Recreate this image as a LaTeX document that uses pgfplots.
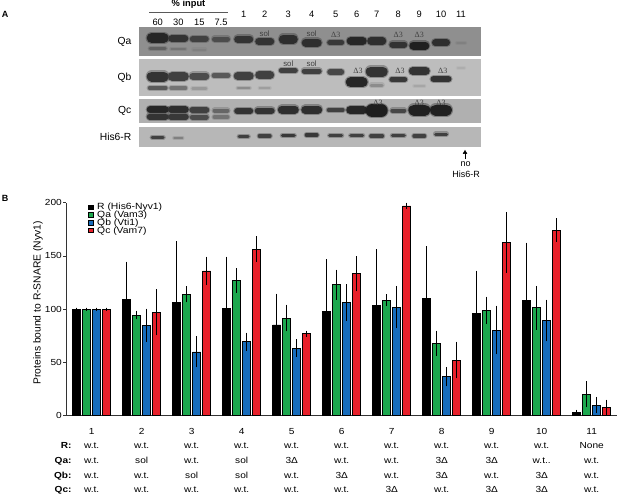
\documentclass[border=0pt]{standalone}
\usepackage{fontspec}
\setmainfont{Liberation Sans}
\newfontfamily\bfont{Liberation Sans}[FakeStretch=1.15]
\newfontfamily\serifont{Liberation Serif}
\usepackage{pgfplots}
\pgfplotsset{compat=1.18}

\definecolor{cgreen}{RGB}{28,168,78}
\definecolor{cblue}{RGB}{22,108,188}
\definecolor{cred}{RGB}{232,32,42}
\definecolor{qacol}{RGB}{143,143,143}
\definecolor{qbcol}{RGB}{189,189,189}
\definecolor{qccol}{RGB}{176,176,176}
\definecolor{hicol}{RGB}{183,183,183}

% gel band: lane x (px), y (px), half width, half height, percent black
\newcommand\band[5]{%
  \pgfmathsetmacro\xa{#1-#3+#4}\pgfmathsetmacro\xb{#1+#3-#4}%
  \pgfmathsetmacro\lw{2*#4}\pgfmathsetmacro\lwh{2*#4+2.2}%
  \edef\tmp{\noexpand\addplot[black!#5, opacity=0.35, line width=\lwh pt, line cap=round] coordinates {(\xa,#2) (\xb,#2)};%
  \noexpand\addplot[black!#5, line width=\lw pt, line cap=round] coordinates {(\xa,#2) (\xb,#2)};}\tmp}

\begin{document}
\begin{tikzpicture}
% ---------------- Panel A (gel) ----------------
\begin{axis}[at={(308.5pt,-90pt)}, anchor=center, scale only axis,
  width=617pt, height=180pt, xmin=0, xmax=617, ymin=0, ymax=180,
  y dir=reverse, hide axis, clip=false]
\addplot[draw=none, fill=qacol] coordinates {(139.3,27.3) (481,27.3) (481,55.7) (139.3,55.7)};
\addplot[draw=none, fill=qbcol] coordinates {(139.3,59.3) (481,59.3) (481,96) (139.3,96)};
\addplot[draw=none, fill=qccol] coordinates {(139.3,98.7) (481,98.7) (481,123.3) (139.3,123.3)};
\addplot[draw=none, fill=hicol] coordinates {(139.3,126.7) (481,126.7) (481,146.7) (139.3,146.7)};
% Qa
\band{157.7}{38}{11}{5}{85}
\band{178.3}{38.5}{10}{3.5}{80}
\band{199.3}{39}{9.5}{3}{75}
\band{221}{39}{9}{2.5}{70}
\band{157.7}{48.5}{9}{1.5}{62}
\band{178.3}{49}{8}{1.2}{55}
\band{199.3}{49.5}{7}{1}{50}
\band{243.7}{39}{9.5}{3.5}{80}
\band{264.7}{41.5}{9.5}{3.5}{80}
\band{288.3}{39}{9.5}{4.5}{82}
\band{311.7}{42.5}{10}{4}{82}
\band{335.7}{42.5}{8.5}{2.5}{78}
\band{356.7}{41}{10}{4}{85}
\band{376.7}{41}{9.5}{3.7}{82}
\band{398.3}{44.5}{9}{3}{80}
\band{419.3}{45.5}{10}{4}{88}
\band{441}{42.7}{9}{3.3}{82}
\band{461}{42.7}{5}{1}{50}
% Qb
\band{157.7}{76.5}{11}{5}{80}
\band{178.3}{76.5}{10.5}{4.5}{75}
\band{199.3}{76}{10}{3.5}{70}
\band{221}{75.5}{9.5}{2.5}{65}
\band{157.7}{88}{10}{2}{65}
\band{178.3}{88}{9}{1.7}{55}
\band{199.3}{88.5}{8}{1.2}{40}
\band{243.7}{76}{10}{4}{75}
\band{264.7}{75}{9.5}{4}{75}
\band{243.7}{88}{7}{1.3}{45}
\band{264.7}{88}{6}{1}{38}
\band{288.3}{70.5}{9.5}{2.5}{75}
\band{311.7}{71}{10}{2.5}{75}
\band{335.7}{72}{8.5}{3}{72}
\band{356.7}{82.3}{11}{5}{85}
\band{376.7}{71.5}{11}{5}{80}
\band{376.7}{85}{7}{1.5}{45}
\band{398.3}{79.3}{9}{2.5}{78}
\band{419.3}{71}{10.5}{4}{80}
\band{419.3}{86}{6}{1}{35}
\band{441}{79}{10.5}{3}{80}
\band{461}{67.7}{4}{0.8}{32}
% Qc
\band{157.7}{109.5}{11}{3.5}{85}
\band{157.7}{116.5}{11}{3}{80}
\band{178.3}{109.5}{10.5}{3.5}{82}
\band{178.3}{116.5}{10.5}{3}{78}
\band{199.3}{110}{10}{3}{75}
\band{199.3}{117}{9.5}{2.5}{70}
\band{221}{110.5}{8.5}{2}{60}
\band{221}{117}{8.5}{1.8}{55}
\band{243.7}{111}{9.5}{3}{80}
\band{264.7}{110.5}{10}{3}{80}
\band{288.3}{109.5}{10.5}{4}{82}
\band{311.7}{109.5}{10.5}{4}{82}
\band{335.7}{110}{9}{2}{75}
\band{356.7}{110}{10.5}{4}{85}
\band{376.7}{110.5}{11}{6.5}{88}
\band{398.3}{110.5}{8}{2}{72}
\band{419.3}{110}{11}{5.5}{87}
\band{441}{110}{11}{5.5}{87}
% His6-R
\band{157.7}{137.3}{7}{1.5}{75}
\band{178.3}{138}{5}{0.8}{50}
\band{243.7}{136.5}{6}{1.5}{75}
\band{264.7}{136}{7}{1.7}{75}
\band{288.3}{135.5}{7.5}{1.7}{78}
\band{311.7}{135}{7}{1.7}{78}
\band{335.7}{135.5}{7.5}{1.5}{75}
\band{356.7}{135.5}{7.5}{1.7}{75}
\band{376.7}{136}{7.5}{1.7}{75}
\band{398.3}{135.5}{7.5}{1.7}{75}
\band{419.3}{136}{7}{1.7}{75}
\band{441}{134}{7}{1.5}{75}
\addplot[black!65, line width=0.7pt] coordinates {(149.3,12.7) (228.3,12.7)};
\addplot[black, line width=0.8pt] coordinates {(465,159) (465,153)};
\addplot[only marks, mark=triangle*, mark size=2.2pt, mark options={fill=black, draw=black}] coordinates {(465,152.5)};
\end{axis}

\node[font=\bfseries\fontsize{9}{10}\selectfont] at (5pt,-14pt) {A};
\node[font=\bfseries\fontsize{9.3}{10}\selectfont] at (188.5pt,-4.5pt) {\% input};
\foreach \x/\t in {157.7/60, 178.3/30, 199.3/15, 221/7.5}
  \node[font=\fontsize{9.3}{10}\selectfont] at (\x pt,-22pt) {\t};
\foreach \x/\t in {243.7/1, 264.7/2, 288.3/3, 311.7/4, 335.7/5, 356.7/6, 376.7/7, 398.3/8, 419.3/9, 441/10, 461/11}
  \node[font=\fontsize{9.3}{10}\selectfont] at (\x pt,-14pt) {\t};
\foreach \y/\t in {42.3/Qa, 78/Qb, 111/Qc, 136.7/His6-R}
  \node[font=\fontsize{10.3}{11}\selectfont, anchor=east, inner sep=0pt] at (131.5pt,-\y pt) {\t};
\foreach \x/\y in {264.7/33.5, 311.7/33.5, 288.3/64, 311.7/64}
  \node[font=\fontsize{7.8}{8}\selectfont, text=black!75] at (\x pt,-\y pt) {sol};
\foreach \x/\y in {335.7/35, 398.3/35, 419.3/35, 358/70.7, 400/70.7, 442.7/70.7, 378/103.3, 419.3/103.3, 441/103.3}
  \node[font=\serifont\fontsize{8}{8}\selectfont, text=black!75] at (\x pt,-\y pt) {Δ3};
\node[font=\fontsize{9}{10}\selectfont] at (465.5pt,-164.5pt) {no};
\node[font=\fontsize{9}{10}\selectfont] at (466pt,-174.5pt) {His6-R};

% ---------------- Panel B (bar chart) ----------------
\begin{axis}[at={(66pt,-415.7pt)}, anchor=south west, scale only axis,
  width=551pt, height=213pt,
  xmin=0.486, xmax=11.506, ymin=0, ymax=200,
  axis lines*=left, axis line style={-, line width=0.8pt, black!80},
  ytick={0,50,100,150,200}, xtick=\empty,
  tick align=outside, major tick length=3pt,
  tick style={black!80, line width=0.8pt},
  yticklabel style={font=\bfont\fontsize{8.8}{10}\selectfont, inner sep=1pt},
  /pgf/number format/assume math mode=true,
  ybar=2pt, bar width=8pt,
  error bars/y dir=both, error bars/y explicit,
  error bars/error bar style={black, line width=0.7pt},
  error bars/error mark options={black, line width=0.7pt, mark size=1.7pt},
  legend style={at={(axis cs:0.93,199.8)}, anchor=north west, draw=none, fill=none,
    inner sep=0pt, font=\bfont\fontsize{9}{9}\selectfont,
    nodes={inner sep=0.5pt, text height=6pt, text depth=0.8pt},
    /tikz/every odd column/.append style={column sep=3.5pt}},
  legend cell align=left,
  legend image code/.code={\draw[#1, line width=0.4pt] (0pt,-2.2pt) rectangle (4.4pt,2.2pt);}
]
\addplot[fill=black, draw=black, line width=0.5pt] coordinates {
 (1,100) +- (0,0) (2,109.5) +- (0,33.5) (3,106.7) +- (0,55.7) (4,101) +- (0,46.7)
 (5,85.4) +- (0,27.6) (6,98.3) +- (0,47.2) (7,103.6) +- (0,51) (8,110.5) +- (0,47.2)
 (9,95.8) +- (0,38.8) (10,108.6) +- (0,52.3) (11,2.8) +- (0,1.3)};
\addplot[fill=cgreen, draw=black, line width=0.5pt] coordinates {
 (1,100) +- (0,0) (2,94.5) +- (0,2.5) (3,114) +- (0,6) (4,127) +- (0,10)
 (5,91.7) +- (0,11) (6,123) +- (0,12.5) (7,108.6) +- (0,4) (8,68) +- (0,10.3)
 (9,99) +- (0,11.3) (10,101.4) +- (0,19) (11,20) +- (0,10.6)};
\addplot[fill=cblue, draw=black, line width=0.5pt] coordinates {
 (1,100) +- (0,0) (2,85) +- (0,14) (3,60) +- (0,13) (4,69.5) +- (0,6.8)
 (5,63.5) +- (0,6.7) (6,106.4) +- (0,15.5) (7,102) +- (0,18.3) (8,36.6) +- (0,7.4)
 (9,80.4) +- (0,21.3) (10,89.5) +- (0,18) (11,10) +- (0,6.2)};
\addplot[fill=cred, draw=black, line width=0.5pt] coordinates {
 (1,100) +- (0,0) (2,97) +- (0,20) (3,136) +- (0,11.8) (4,156.5) +- (0,10.2)
 (5,77) +- (0,1.2) (6,133.3) +- (0,15) (7,197) +- (0,1.5) (8,52.3) +- (0,15.6)
 (9,162.8) +- (0,27) (10,174.3) +- (0,9.4) (11,7.5) +- (0,6)};
\legend{R (His6-Nyv1), Qa (Vam3), Qb (Vti1), Qc (Vam7)}
\end{axis}

\node[font=\bfseries\fontsize{9}{10}\selectfont] at (5pt,-198pt) {B};
\node[rotate=90, font=\fontsize{10.3}{11}\selectfont] at (38pt,-303pt) {Proteins bound to R-SNARE (Nyv1)};

\foreach \i in {1,...,11}
  \node[font=\bfont\fontsize{8.8}{10}\selectfont, anchor=base, inner sep=0pt] at ({91.7pt+50pt*(\i-1)},-434.3pt) {\i};
\foreach \y/\t in {448.3/R:, 463.8/Qa:, 478.8/Qb:, 492.8/Qc:}
  \node[font=\bfont\bfseries\fontsize{8.8}{10}\selectfont, anchor=base east, inner sep=0pt] at (71.7pt,-\y pt) {\t};
\foreach \t [count=\i] in {w.t.,w.t.,w.t.,w.t.,w.t.,w.t.,w.t.,w.t.,w.t.,w.t.,None}
  \node[font=\bfont\fontsize{8.8}{10}\selectfont, anchor=base, inner sep=0pt] at ({91.7pt+50pt*(\i-1)},-448.3pt) {\t};
\foreach \t [count=\i] in {w.t.,sol,w.t.,sol,3Δ,w.t.,w.t.,3Δ,3Δ,w.t..,w.t.}
  \node[font=\bfont\fontsize{8.8}{10}\selectfont, anchor=base, inner sep=0pt] at ({91.7pt+50pt*(\i-1)},-463.8pt) {\t};
\foreach \t [count=\i] in {w.t.,w.t.,sol,sol,w.t.,3Δ,w.t.,3Δ,w.t.,3Δ,w.t.}
  \node[font=\bfont\fontsize{8.8}{10}\selectfont, anchor=base, inner sep=0pt] at ({91.7pt+50pt*(\i-1)},-478.8pt) {\t};
\foreach \t [count=\i] in {w.t.,w.t.,w.t.,w.t.,w.t.,w.t.,3Δ,w.t.,3Δ,3Δ,w.t.}
  \node[font=\bfont\fontsize{8.8}{10}\selectfont, anchor=base, inner sep=0pt] at ({91.7pt+50pt*(\i-1)},-492.8pt) {\t};

\pgfresetboundingbox
\path[use as bounding box] (0pt,0pt) rectangle (617pt,-495pt);
\end{tikzpicture}
\end{document}
